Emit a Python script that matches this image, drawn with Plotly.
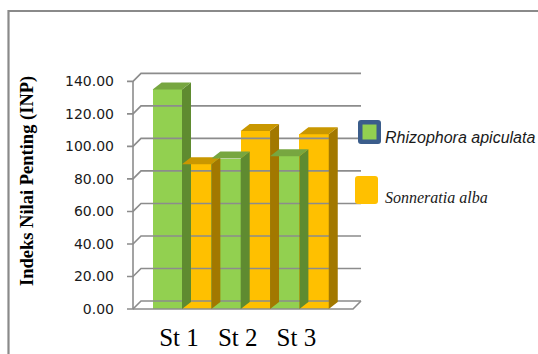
import plotly.graph_objects as go

# ---- data -------------------------------------------------------------
stations = ["St 1", "St 2", "St 3"]
rhizophora = [135.0, 92.5, 94.0]
sonneratia = [89.0, 109.5, 107.5]
y_ticks = [0, 20, 40, 60, 80, 100, 120, 140]

series = [
    ("Rhizophora apiculata", rhizophora, "#92d050", "#77a640", "#5f8b30"),
    ("Sonneratia alba", sonneratia, "#ffc000", "#c99700", "#a27800"),
]

# ---- layout geometry (pixels) ----------------------------------------
W, H = 538, 354
L, R, T, B = 127, 362, 68, 312          # plot area
PITCH = 58.7                             # px per category
CAT0 = 182                               # px of first category centre
UNIT = 1.626                             # px per value unit
ZERO = 309                               # px of value 0 on the front plane

xr = [(L - CAT0) / PITCH, (R - CAT0) / PITCH]
yr = [(ZERO - B) / UNIT, (ZERO - T) / UNIT]


def dx(px):  # horizontal pixel distance -> data units
    return px / PITCH


def dy(px):  # vertical pixel distance -> data units
    return px / UNIT


def xdata(px):
    return (px - CAT0) / PITCH


def px_x(p):
    return (p - L) / (R - L)


def px_y(p):
    return (B - p) / (B - T)


# depth of the bars and of the walls
BDX, BDY = dx(9), dy(7)
WDX, WDY = dx(8), dy(8)
wall_l = xdata(133)
wall_r = xdata(361) - WDX

fig = go.Figure()

# ---- walls, floor and gridlines ---------------------------------------
gx, gy = [], []
for v in y_ticks:
    gx += [xr[0], wall_l, wall_l + WDX, wall_r + WDX, None]
    gy += [v, v, v + WDY, v + WDY, None]
gx += [wall_l, wall_r, wall_r + WDX, None, wall_l, wall_l]
gy += [0, 0, WDY, None, 0, y_ticks[-1]]
fig.add_trace(go.Scatter(x=gx, y=gy, mode="lines", hoverinfo="skip",
                         line=dict(color="#8c8c8c", width=1.6),
                         showlegend=False, cliponaxis=False))

# ---- 3-D faces (top and right side) of every column -------------------
n = len(series)
bw = 1.0 / n
for i in range(len(stations)):
    for s, (name, vals, front, top, side) in enumerate(series):
        v = vals[i]
        x0 = i - 0.5 + s * bw
        x1 = x0 + bw
        fig.add_trace(go.Scatter(
            x=[x1, x1, x1 + BDX, x1 + BDX, x1],
            y=[0, v, v + BDY, BDY, 0],
            fill="toself", fillcolor=side, mode="lines",
            line=dict(width=0, color=side), hoverinfo="skip",
            showlegend=False))
        fig.add_trace(go.Scatter(
            x=[x0, x1, x1 + BDX, x0 + BDX, x0],
            y=[v, v, v + BDY, v + BDY, v],
            fill="toself", fillcolor=top, mode="lines",
            line=dict(width=0, color=top), hoverinfo="skip",
            showlegend=False))

# ---- front faces --------------------------------------------------------
for name, vals, front, top, side in series:
    fig.add_trace(go.Bar(x=list(range(len(stations))), y=vals, name=name,
                         marker=dict(color=front, line=dict(width=0)),
                         showlegend=False))

# ---- legend -------------------------------------------------------------
def rounded(x0, y0, x1, y1, r=3):
    X0, X1 = px_x(x0), px_x(x1)
    Y0, Y1 = px_y(y0), px_y(y1)
    rx = r / (R - L)
    ry = r / (B - T)
    return (f"M{X0 + rx},{Y0} L{X1 - rx},{Y0} Q{X1},{Y0} {X1},{Y0 - ry} "
            f"L{X1},{Y1 + ry} Q{X1},{Y1} {X1 - rx},{Y1} L{X0 + rx},{Y1} "
            f"Q{X0},{Y1} {X0},{Y1 + ry} L{X0},{Y0 - ry} Q{X0},{Y0} {X0 + rx},{Y0} Z")


shapes = [
    dict(type="path", xref="paper", yref="paper",
         path=rounded(358, 120, 381, 144), fillcolor="#3b5d8b",
         line=dict(width=0)),
    dict(type="rect", xref="paper", yref="paper",
         x0=px_x(362.5), x1=px_x(376.5), y0=px_y(124.5), y1=px_y(139.5),
         fillcolor="#92d050", line=dict(width=0)),
    dict(type="path", xref="paper", yref="paper",
         path=rounded(355, 176, 378, 204), fillcolor="#ffc000",
         line=dict(width=0)),
    # outer frame
    dict(type="path", xref="paper", yref="paper",
         path=(f"M{px_x(8.5)},{px_y(H + 5)} L{px_x(8.5)},{px_y(11)} "
               f"L{px_x(W + 5)},{px_y(11)}"),
         line=dict(color="#8a8a8a", width=2.2)),
]

annotations = [
    dict(text="Rhizophora apiculata", xref="paper", yref="paper",
         x=px_x(383), y=px_y(137), xanchor="left", yanchor="middle",
         showarrow=False,
         font=dict(family="Liberation Sans", size=16, color="#1a1a1a",
                   style="italic")),
    dict(text="Sonneratia alba", xref="paper", yref="paper",
         x=px_x(383), y=px_y(197), xanchor="left", yanchor="middle",
         showarrow=False,
         font=dict(family="Liberation Serif", size=16, color="#1a1a1a",
                   style="italic")),
    dict(text="Indeks Nilai Penting (INP)", xref="paper", yref="paper",
         x=px_x(27), y=px_y(181), xanchor="center", yanchor="middle",
         textangle=-90, showarrow=False,
         font=dict(family="Liberation Serif", size=18.5, color="#000000",
                   weight="bold")),
]

fig.update_layout(
    width=W, height=H,
    margin=dict(l=L, r=W - R, t=T, b=H - B, pad=0),
    paper_bgcolor="#ffffff", plot_bgcolor="rgba(0,0,0,0)",
    barmode="group", bargap=0, bargroupgap=0,
    shapes=shapes, annotations=annotations,
    xaxis=dict(range=xr, tickvals=list(range(len(stations))),
               ticktext=stations, showgrid=False, zeroline=False,
               showline=False, ticks="", ticklabelstandoff=8,
               ticklabelshift=-3, automargin=False,
               tickfont=dict(family="Liberation Serif", size=25,
                             color="#000000")),
    yaxis=dict(range=yr, tickvals=y_ticks,
               ticktext=[f"{v:.2f}" for v in y_ticks],
               showgrid=False, zeroline=False, showline=False, ticks="",
               ticklabelstandoff=12, automargin=False,
               tickfont=dict(family="DejaVu Sans", size=14,
                             color="#1a1a1a")),
)

fig.write_html("out.html")
